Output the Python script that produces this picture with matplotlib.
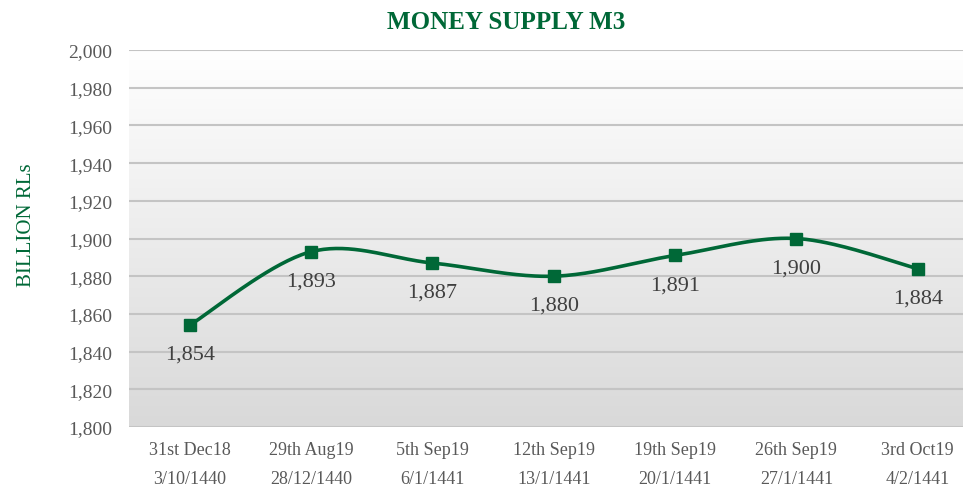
import matplotlib
matplotlib.use("Agg")
import matplotlib.pyplot as plt
import numpy as np

# data
dates_greg = ["31st Dec18", "29th Aug19", "5th Sep19", "12th Sep19",
              "19th Sep19", "26th Sep19", "3rd Oct19"]
dates_hijri = ["3/10/1440", "28/12/1440", "6/1/1441", "13/1/1441",
               "20/1/1441", "27/1/1441", "4/2/1441"]
m3 = [1854, 1893, 1887, 1880, 1891, 1900, 1884]
y_ticks = list(range(1800, 2001, 20))

GREEN = "#006837"
plt.rcParams["font.family"] = ["Liberation Serif", "DejaVu Serif"]


def smooth(xs, ys, n=40):
    # bezier through points, control points like excel's smoothed line
    xs = np.asarray(xs, float)
    ys = np.asarray(ys, float)
    px = np.concatenate([[xs[0]], xs, [xs[-1]]])
    py = np.concatenate([[ys[0]], ys, [ys[-1]]])
    outx, outy = [], []
    t = np.linspace(0, 1, n)
    for i in range(1, len(px) - 2):
        p0 = np.array([px[i], py[i]])
        p3 = np.array([px[i + 1], py[i + 1]])
        c1 = p0 + (np.array([px[i + 1], py[i + 1]]) - np.array([px[i - 1], py[i - 1]])) / 6
        c2 = p3 - (np.array([px[i + 2], py[i + 2]]) - np.array([px[i], py[i]])) / 6
        b = ((1 - t) ** 3)[:, None] * p0 + (3 * (1 - t) ** 2 * t)[:, None] * c1 \
            + (3 * (1 - t) * t ** 2)[:, None] * c2 + (t ** 3)[:, None] * p3
        outx.extend(b[:, 0])
        outy.extend(b[:, 1])
    return outx, outy


fig = plt.figure(figsize=(9.63, 4.89), dpi=100)
ax = fig.add_axes([0.134, 0.1247, 0.882, 0.771])

x = np.arange(len(m3))
ax.set_xlim(-0.5, len(m3) - 0.5)
ax.set_ylim(1800, 2000)

# gradient background
grad = np.linspace(0, 1, 256)[:, None]
ax.imshow(grad, extent=[0, 1, 0, 1], transform=ax.transAxes, aspect="auto",
          cmap=matplotlib.colors.LinearSegmentedColormap.from_list("g", ["#d9d9d9", "#ffffff"]),
          origin="lower", zorder=0)

for v in y_ticks:
    ax.axhline(v, color="#c4c4c4", lw=1.5, zorder=1)

sx, sy = smooth(x, m3)
ax.plot(sx, sy, color=GREEN, lw=2.6, zorder=3, solid_capstyle="round")
ax.plot(x, m3, ls="none", marker="s", ms=8, color=GREEN, zorder=4)

for xi, v in zip(x, m3):
    ax.annotate(f"{v:,}", (xi, v), xytext=(0, -21), textcoords="offset points",
                ha="center", va="center", fontsize=16, color="#404040", zorder=5)

ax.set_yticks(y_ticks)
ax.set_yticklabels([f"{v:,}" for v in y_ticks], fontsize=14, color="#595959")
ax.set_xticks(x)
ax.set_xticklabels([f"{g}\n{h}" for g, h in zip(dates_greg, dates_hijri)],
                   fontsize=13, color="#595959", linespacing=1.9)
ax.tick_params(length=0, pad=12)
ax.tick_params(axis="x", pad=10)
for s in ax.spines.values():
    s.set_visible(False)

fig.text(0.028, 0.54, "BILLION RLs", rotation=90, ha="center", va="center",
         fontsize=15, color=GREEN)
fig.text(0.526, 0.955, "MONEY SUPPLY M3", ha="center", va="center",
         fontsize=18, fontweight="bold", color=GREEN)

fig.savefig("out.png", dpi=100)
